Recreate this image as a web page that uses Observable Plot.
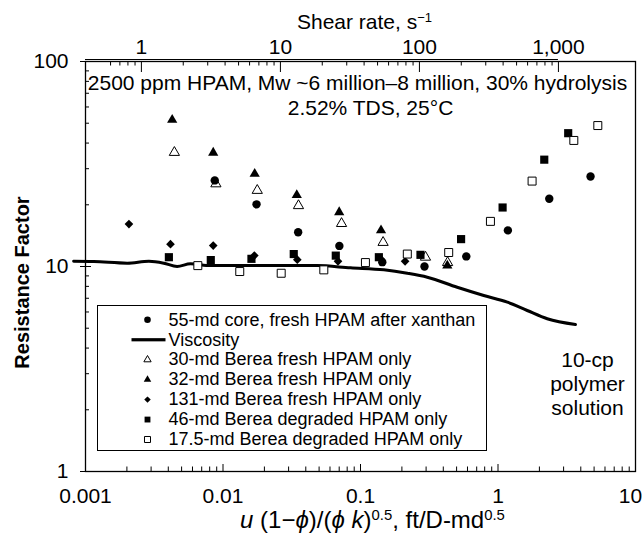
<!DOCTYPE html>
<html>
<head>
<meta charset="utf-8">
<script src="https://cdn.jsdelivr.net/npm/d3@7"></script>
<script src="https://cdn.jsdelivr.net/npm/@observablehq/plot@0.6"></script>
<style>
  html, body { margin: 0; padding: 0; background: #fff; }
  svg { display: block; }
</style>
</head>
<body>
<div id="chart"></div>
<script>
// ---------- data (x = u(1-phi)/(phi k)^0.5, y = resistance factor) ----------
const core55 = [[0.00871,26.3],[0.01753,20.1],[0.0352,14.7],[0.0702,12.6],[0.144,10.5],[0.292,10.0],[0.588,11.2],[1.18,15.0],[2.36,21.4],[4.71,27.5]];
const berea30 = [[0.00443,36.0],[0.00888,25.3],[0.01775,23.5],[0.0354,19.8],[0.0728,16.2],[0.146,13.1],[0.297,11.1],[0.430,10.45]];
const berea32 = [[0.00427,51.9],[0.00849,35.9],[0.0170,28.3],[0.0344,22.3],[0.0700,18.4],[0.141,15.0],[0.428,10.1]];
const berea131 = [[0.00207,16.1],[0.00415,12.85],[0.00849,12.65],[0.0169,11.3],[0.0347,10.8],[0.0686,10.6],[0.140,10.9],[0.211,10.6]];
const degraded46 = [[0.00404,11.1],[0.00815,10.75],[0.0161,10.9],[0.0327,11.5],[0.0661,11.3],[0.136,11.1],[0.273,11.4],[0.539,13.6],[1.08,19.4],[2.17,33.2],[3.24,44.7]];
const degraded17 = [[0.00656,10.1],[0.01324,9.45],[0.0265,9.27],[0.0541,9.63],[0.1086,10.45],[0.219,11.5],[0.438,11.7],[0.881,16.6],[1.77,26.1],[3.56,41.2],[5.32,48.7]];
const viscosity = [[0.00082,10.6],[0.00115,10.57],[0.00201,10.38],[0.00289,10.6],[0.00371,10.38],[0.00464,10.0],[0.0058,10.3],[0.00811,10.1],[0.01874,10.1],[0.0484,10.1],[0.0846,9.85],[0.148,9.63],[0.219,9.27],[0.306,8.87],[0.505,7.92],[0.788,7.22],[1.17,6.70],[1.63,6.10],[2.28,5.56],[3.66,5.21]];

// ---------- ticks & labels ----------
const xMajor = [0.001, 0.01, 0.1, 1];
const xMajorLabels = ["0.001", "0.01", "0.1", "1"];
const xLast = [10];
const xLastLabel = ["10"];
const xMinor = [0.002,0.003,0.004,0.005,0.006,0.007,0.008,0.009,0.02,0.03,0.04,0.05,0.06,0.07,0.08,0.09,0.2,0.3,0.4,0.5,0.6,0.7,0.8,0.9,2,3,4,5,6,7,8,9];
const yMajor = [1, 10, 100];
const yMajorLabels = ["1", "10", "100"];
const yMinor = [2,3,4,5,6,7,8,9,20,30,40,50,60,70,80,90];
const shearMajor = [1, 10, 100, 1000];
const shearLabels = ["1", "10", "100", "1,000"];
const shearMinor = [0.6,0.7,0.8,0.9,2,3,4,5,6,7,8,9,20,30,40,50,60,70,80,90,200,300,400,500,600,700,800,900];
const legendLabels = [
  "55-md core, fresh HPAM after xanthan",
  "Viscosity",
  "30-md Berea fresh HPAM only",
  "32-md Berea fresh HPAM only",
  "131-md Berea fresh HPAM only",
  "46-md Berea degraded HPAM only",
  "17.5-md Berea degraded HPAM only"
];
const headerLine1 = "2500 ppm HPAM, Mw ~6 million\u20138 million, 30% hydrolysis";
const headerLine2 = "2.52% TDS, 25\u00B0C";
const annotation = "10-cp\npolymer\nsolution";
const topTitle = "Shear rate, s\u22121";
const yTitle = "Resistance Factor";
const xTitle = "u (1\u2212\u03D5)/(\u03D5 k)0.5, ft/D-md0.5";

// shear rate (top axis) -> bottom-axis units
const SHEAR_COEF = 0.00255, SHEAR_EXP = 1.011;
const shearToX = s => SHEAR_COEF * Math.pow(s, SHEAR_EXP);

// ---------- styles ----------
const FONT = "'Liberation Sans', Arial, Helvetica, sans-serif";
const X0 = 0.001, Y0 = 1, YTOP = 100;
const seriesStyle = [
  {symbol: "circle", fill: "black", stroke: "none", r: 4.2, lr: 3.3},
  null,
  {symbol: "triangle", fill: "white", stroke: "black", r: 3.8, lr: 2.7},
  {symbol: "triangle", fill: "black", stroke: "none", r: 3.8, lr: 2.8},
  {symbol: "diamond2", fill: "black", stroke: "none", r: 3.9, lr: 2.9},
  {symbol: "square", fill: "black", stroke: "none", r: 4.6, lr: 3.3},
  {symbol: "square", fill: "white", stroke: "black", r: 4.5, lr: 3.4}
];
const px = d => d[0], py = d => d[1];
const dotMark = (data, s) => Plot.dot(data, {x: px, y: py, symbol: s.symbol, fill: s.fill, stroke: s.stroke, strokeWidth: 1, r: s.r});

// legend marks
const legendMarks = [];
legendMarks.push(Plot.frame({fill: "white", stroke: "black", strokeWidth: 1, insetLeft: 12, insetTop: 244, insetRight: 149, insetBottom: 21}));
legendLabels.forEach((label, i) => {
  const dy = 258.3 + i * 19.95;
  legendMarks.push(Plot.text([label], {frameAnchor: "top-left", dx: 83, dy, textAnchor: "start", lineAnchor: "middle", fontSize: 18}));
  const s = seriesStyle[i];
  if (s) {
    legendMarks.push(Plot.dot([label], {frameAnchor: "top-left", dx: 62, dy, symbol: s.symbol, fill: s.fill, stroke: s.stroke, strokeWidth: 1, r: s.lr}));
  } else {
    legendMarks.push(Plot.frame({fill: "black", stroke: "none", insetLeft: 46, insetRight: 470, insetTop: dy - 1.6, insetBottom: 410 - dy - 1.6}));
  }
});

const chart = Plot.plot({
  width: 644,
  height: 540,
  marginLeft: 85,
  marginRight: 9,
  marginTop: 61,
  marginBottom: 69,
  x: {type: "log", domain: [0.001, 10], axis: null},
  y: {type: "log", domain: [1, 100], axis: null},
  style: {fontFamily: FONT, background: "white", color: "black"},
  marks: [
    Plot.frame({stroke: "black", strokeWidth: 1.3}),
    // top (shear-rate) axis line
    Plot.ruleY([YTOP], {x1: X0, x2: shearToX(1000), dy: -2, strokeWidth: 1.2}),
    // bottom ticks
    Plot.ruleX(xMajor, {y1: Y0, y2: Y0, insetBottom: 7}),
    Plot.ruleX(xMinor, {y1: Y0, y2: Y0, insetBottom: 4.5}),
    // left ticks
    Plot.ruleY(yMajor, {x1: X0, x2: X0, insetLeft: -5, insetRight: -6}),
    Plot.ruleY(yMinor, {x1: X0, x2: X0, insetRight: -4}),
    // top ticks
    Plot.ruleX(shearMajor.map(shearToX), {y1: YTOP, y2: YTOP, insetBottom: -11}),
    Plot.ruleX(shearMinor.map(shearToX), {y1: YTOP, y2: YTOP, insetBottom: -4.5}),
    // tick labels
    Plot.text(xMajor, {x: d => d, y: Y0, text: (d, i) => xMajorLabels[i], dy: 31, textAnchor: "middle", lineAnchor: "bottom", fontSize: 21}),
    Plot.text(xLast, {x: d => d, y: Y0, text: (d, i) => xLastLabel[i], dx: -5, dy: 31, textAnchor: "middle", lineAnchor: "bottom", fontSize: 21}),
    Plot.text(yMajor, {x: X0, y: d => d, text: (d, i) => yMajorLabels[i], dx: -17, textAnchor: "end", lineAnchor: "middle", fontSize: 21}),
    Plot.text(shearMajor, {x: s => shearToX(s), y: YTOP, text: (d, i) => shearLabels[i], dy: -8, textAnchor: "middle", lineAnchor: "bottom", fontSize: 21}),
    // axis titles
    Plot.text([topTitle], {frameAnchor: "top", dx: 4, dy: -33, textAnchor: "middle", lineAnchor: "bottom", fontSize: 21}),
    Plot.text([yTitle], {frameAnchor: "left", dx: -63, dy: 16, rotate: -90, textAnchor: "middle", lineAnchor: "middle", fontSize: 20, fontWeight: "bold"}),
    Plot.text([xTitle], {frameAnchor: "bottom", dx: 12, dy: 56, textAnchor: "middle", lineAnchor: "bottom", fontSize: 24}),
    // header
    Plot.text([headerLine1], {frameAnchor: "top", dx: -3, dy: 28, textAnchor: "middle", lineAnchor: "bottom", fontSize: 21}),
    Plot.text([headerLine2], {frameAnchor: "top", dx: 10, dy: 53.5, textAnchor: "middle", lineAnchor: "bottom", fontSize: 21}),
    // annotation
    Plot.text([annotation], {frameAnchor: "top-left", dx: 502, dy: 322, textAnchor: "middle", lineAnchor: "middle", fontSize: 21, lineHeight: 1.13}),
    // viscosity curve
    Plot.line(viscosity, {x: px, y: py, stroke: "black", strokeWidth: 3, curve: "monotone-x"}),
    // data
    dotMark(berea30, seriesStyle[2]),
    dotMark(core55, seriesStyle[0]),
    dotMark(berea32, seriesStyle[3]),
    dotMark(berea131, seriesStyle[4]),
    dotMark(degraded46, seriesStyle[5]),
    dotMark(degraded17, seriesStyle[6]),
    ...legendMarks
  ]
});

// rich text (italic / superscripts) for titles
const SVGNS = "http://www.w3.org/2000/svg";
function richText(node, parts) {
  node.textContent = "";
  for (const p of parts) {
    const t = document.createElementNS(SVGNS, "tspan");
    t.textContent = p.t;
    if (p.i) t.setAttribute("font-style", "italic");
    if (p.sup) { t.setAttribute("baseline-shift", "super"); t.setAttribute("font-size", "0.62em"); }
    node.appendChild(t);
  }
}
d3.select(chart).selectAll("text").each(function () {
  if (this.textContent === xTitle) {
    richText(this, [{t: "u", i: 1}, {t: " (1\u2212"}, {t: "\u03D5", i: 1}, {t: ")/("}, {t: "\u03D5", i: 1}, {t: " "}, {t: "k", i: 1}, {t: ")"}, {t: "0.5", sup: 1}, {t: ", ft/D-md"}, {t: "0.5", sup: 1}]);
  } else if (this.textContent === topTitle) {
    richText(this, [{t: "Shear rate, s"}, {t: "\u22121", sup: 1}]);
  }
});

document.getElementById("chart").appendChild(chart);
</script>
</body>
</html>
